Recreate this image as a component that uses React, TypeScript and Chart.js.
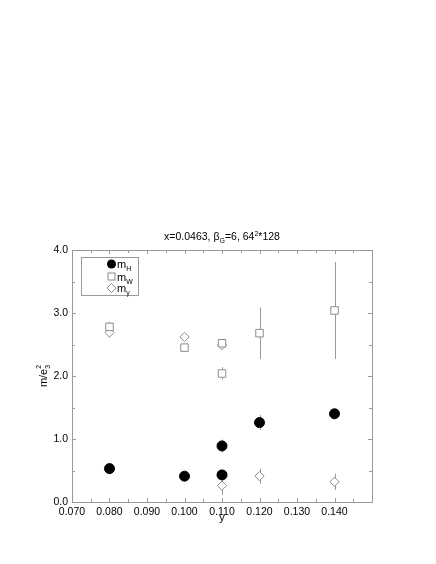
import { useEffect, useRef } from 'react';
import { Chart, registerables } from 'chart.js';

Chart.register(...registerables);

// couplings y (x axis)
const yCoupling = [0.08, 0.1, 0.11, 0.11, 0.12, 0.14];

// m_H
const mH = [0.53, 0.41, 0.43, 0.89, 1.26, 1.4];
const mHErr = [0.02, 0.02, 0.03, 0.1, 0.12, 0.05];

// m_W
const mW = [2.78, 2.45, 2.52, 2.04, 2.68, 3.04];
const mWErr = [0.08, 0.06, 0.06, 0.1, 0.41, 0.77];

// m_gamma
const mG = [2.69, 2.62, 2.49, 0.26, 0.41, 0.32];
const mGErr = [0.08, 0.05, 0.06, 0.15, 0.12, 0.13];

const xTickValues = [0.07, 0.08, 0.09, 0.1, 0.11, 0.12, 0.13, 0.14, 0.15];
const xMinorTicks = [0.075, 0.085, 0.095, 0.105, 0.115, 0.125, 0.135, 0.145];
const yTickValues = [0, 1, 2, 3, 4];
const yMinorTicks = [0.5, 1.5, 2.5, 3.5];

const FONT = '"Liberation Sans", Arial, sans-serif';
const GRAY = '#9a9a9a';
const MARK_GRAY = '#8c8c8c';

const errors = [mHErr, mWErr, mGErr];

type Part = { t: string; dy?: number; size?: number };

function drawParts(ctx: CanvasRenderingContext2D, parts: Part[], x: number, y: number, base: number, align: 'left' | 'center') {
   let total = 0;
   for (const p of parts) {
      ctx.font = `${p.size ?? base}px ${FONT}`;
      total += ctx.measureText(p.t).width;
   }
   let cx = align === 'center' ? x - total / 2 : x;
   ctx.textAlign = 'left';
   ctx.textBaseline = 'alphabetic';
   for (const p of parts) {
      ctx.font = `${p.size ?? base}px ${FONT}`;
      ctx.fillText(p.t, cx, y + (p.dy ?? 0));
      cx += ctx.measureText(p.t).width;
   }
}

const paperPlugin = {
   id: 'paper',
   beforeDatasetsDraw(chart: any) {
      const ctx = chart.ctx;
      const xs = chart.scales.x;
      const ys = chart.scales.y;
      ctx.save();
      ctx.strokeStyle = GRAY;
      ctx.lineWidth = 1;
      chart.data.datasets.forEach((ds: any, i: number) => {
         ds.data.forEach((p: any, j: number) => {
            const e = errors[i][j];
            const px = Math.round(xs.getPixelForValue(p.x)) + 0.5;
            ctx.beginPath();
            ctx.moveTo(px, ys.getPixelForValue(p.y - e));
            ctx.lineTo(px, ys.getPixelForValue(p.y + e));
            ctx.stroke();
         });
      });
      ctx.restore();
   },
   afterDraw(chart: any) {
      const ctx = chart.ctx;
      const { left, right, top, bottom } = chart.chartArea;
      const xs = chart.scales.x;
      const ys = chart.scales.y;
      ctx.save();
      ctx.strokeStyle = GRAY;
      ctx.lineWidth = 1;
      ctx.strokeRect(Math.round(left) + 0.5, Math.round(top) + 0.5, Math.round(right - left), Math.round(bottom - top));
      const tick = (vals: number[], len: number) => {
         ctx.beginPath();
         vals.forEach(v => {
            const px = Math.round(xs.getPixelForValue(v)) + 0.5;
            ctx.moveTo(px, bottom);
            ctx.lineTo(px, bottom - len);
            ctx.moveTo(px, top);
            ctx.lineTo(px, top + len);
         });
         ctx.stroke();
      };
      const tickY = (vals: number[], len: number) => {
         ctx.beginPath();
         vals.forEach(v => {
            const py = Math.round(ys.getPixelForValue(v)) + 0.5;
            ctx.moveTo(left, py);
            ctx.lineTo(left + len, py);
            ctx.moveTo(right, py);
            ctx.lineTo(right - len, py);
         });
         ctx.stroke();
      };
      tick(xTickValues, 4);
      tick(xMinorTicks, 3);
      tickY(yTickValues, 4);
      tickY(yMinorTicks, 3);

      // title
      ctx.fillStyle = '#000';
      drawParts(ctx, [
         { t: 'x=0.0463, \u03b2' },
         { t: 'G', dy: 2.5, size: 7 },
         { t: '=6, 64' },
         { t: '2', dy: -4.5, size: 7 },
         { t: '*128' },
      ], (left + right) / 2, 240, 10.5, 'center');

      // x axis title
      ctx.font = `11px ${FONT}`;
      ctx.textAlign = 'center';
      ctx.fillText('y', (left + right) / 2, 521);

      // y axis title
      ctx.save();
      ctx.translate(47, (top + bottom) / 2);
      ctx.rotate(-Math.PI / 2);
      ctx.font = `11px ${FONT}`;
      const w1 = ctx.measureText('m/e').width;
      ctx.font = `7px ${FONT}`;
      const w2 = ctx.measureText('3').width;
      const x0 = -(w1 + w2) / 2;
      ctx.textAlign = 'left';
      ctx.font = `11px ${FONT}`;
      ctx.fillText('m/e', x0, 0);
      ctx.font = `7px ${FONT}`;
      ctx.fillText('3', x0 + w1, 2.5);
      ctx.fillText('2', x0 + w1, -6.5);
      ctx.restore();

      // legend
      ctx.strokeStyle = GRAY;
      ctx.strokeRect(81.5, 257.5, 57, 38);
      const mx = 111.5;
      const rows = [264, 276.5, 288];
      // filled circle
      ctx.fillStyle = '#000';
      ctx.beginPath();
      ctx.arc(mx, rows[0], 4.5, 0, Math.PI * 2);
      ctx.fill();
      // square
      ctx.strokeStyle = MARK_GRAY;
      ctx.strokeRect(mx - 3.5, rows[1] - 3.5, 7, 7);
      // diamond
      ctx.beginPath();
      ctx.moveTo(mx, rows[2] - 4.5);
      ctx.lineTo(mx + 4.5, rows[2]);
      ctx.lineTo(mx, rows[2] + 4.5);
      ctx.lineTo(mx - 4.5, rows[2]);
      ctx.closePath();
      ctx.stroke();
      ctx.fillStyle = '#000';
      const subs = ['H', 'W', '\u03b3'];
      subs.forEach((s, i) => {
         drawParts(ctx, [{ t: 'm' }, { t: s, dy: 3, size: 7 }], 117, rows[i] + 4, 11, 'left');
      });
      ctx.restore();
   },
};

function pts(vals: number[]) {
   return yCoupling.map((x, i) => ({ x, y: vals[i] }));
}

export default function App() {
   const chartRef = useRef<HTMLCanvasElement>(null);
   const chartInstance = useRef<Chart | null>(null);

   useEffect(() => {
      if (!chartRef.current) return;
      const ctx = chartRef.current.getContext('2d');
      if (!ctx) return;
      if (chartInstance.current) chartInstance.current.destroy();

      chartInstance.current = new Chart(ctx, {
         type: 'scatter',
         data: {
            datasets: [
               {
                  label: 'mH',
                  data: pts(mH),
                  pointStyle: 'circle',
                  pointRadius: 5,
                  backgroundColor: '#000',
                  borderColor: '#000',
                  borderWidth: 1,
               },
               {
                  label: 'mW',
                  data: pts(mW),
                  pointStyle: 'rect',
                  pointRadius: 5.3,
                  backgroundColor: '#fff',
                  borderColor: MARK_GRAY,
                  borderWidth: 1,
               },
               {
                  label: 'mgamma',
                  data: pts(mG),
                  pointStyle: 'rectRot',
                  pointRadius: 4.6,
                  backgroundColor: '#fff',
                  borderColor: MARK_GRAY,
                  borderWidth: 1,
               },
            ],
         },
         options: {
            animation: false,
            responsive: true,
            maintainAspectRatio: false,
            layout: { padding: { top: 250, right: 64, left: 0, bottom: 0 } },
            plugins: {
               legend: { display: false },
               tooltip: { enabled: false },
               title: { display: false },
            },
            scales: {
               x: {
                  type: 'linear',
                  min: 0.07,
                  max: 0.15,
                  grid: { display: false, drawTicks: false },
                  border: { display: false },
                  afterBuildTicks: (scale: any) => {
                     scale.ticks = xTickValues.map(v => ({ value: v }));
                  },
                  afterFit: (scale: any) => {
                     scale.height = 62;
                  },
                  ticks: {
                     autoSkip: false,
                     maxRotation: 0,
                     padding: 4,
                     color: '#000',
                     font: { family: FONT, size: 10.5 },
                     callback: (v: any) => (Number(v) > 0.1495 ? '' : Number(v).toFixed(3)),
                  },
               },
               y: {
                  type: 'linear',
                  min: 0,
                  max: 4,
                  grid: { display: false, drawTicks: false },
                  border: { display: false },
                  afterBuildTicks: (scale: any) => {
                     scale.ticks = yTickValues.map(v => ({ value: v }));
                  },
                  afterFit: (scale: any) => {
                     scale.width = 72;
                  },
                  ticks: {
                     padding: 4,
                     color: '#000',
                     font: { family: FONT, size: 10.5 },
                     callback: (v: any) => Number(v).toFixed(1),
                  },
               },
            },
         },
         plugins: [paperPlugin],
      });

      return () => {
         if (chartInstance.current) {
            chartInstance.current.destroy();
            chartInstance.current = null;
         }
      };
   }, []);

   return (
      <div style={{ position: 'absolute', left: 0, top: 0, width: 436, height: 564, background: '#fff' }}>
         <canvas ref={chartRef}></canvas>
      </div>
   );
}
